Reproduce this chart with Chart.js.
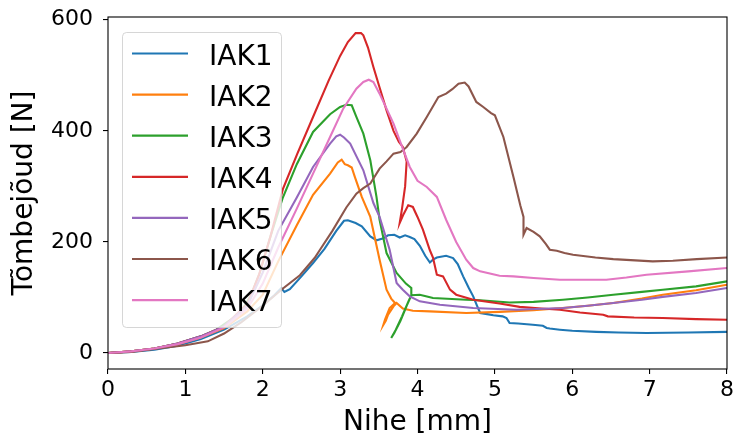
<!DOCTYPE html>
<html>
<head>
<meta charset="utf-8">
<script src="https://cdn.jsdelivr.net/npm/chart.js@4"></script>
<style>
  html, body { margin: 0; padding: 0; background: #fff; }
  #wrap { width: 735px; height: 442px; }
</style>
</head>
<body>
<div id="wrap"><canvas id="forceChart"></canvas></div>
<script>
// series names + tab10 colours
const seriesNames = ["IAK1", "IAK2", "IAK3", "IAK4", "IAK5", "IAK6", "IAK7"];
const seriesColors = ["#1f77b4", "#ff7f0e", "#2ca02c", "#d62728", "#9467bd", "#8c564b", "#e377c2"];

const xTicks = [0, 1, 2, 3, 4, 5, 6, 7, 8];
const yTicks = [0, 200, 400, 600];

// displacement [mm] / force [N] for every specimen
const iak1X = [0, 0.3, 0.6, 0.9, 1.2, 1.5, 1.8, 2.0, 2.15, 2.24, 2.28, 2.35, 2.5, 2.65, 2.8, 2.95, 3.05, 3.1, 3.2, 3.28, 3.39, 3.47, 3.55, 3.62, 3.7, 3.77, 3.84, 3.9, 3.96, 4.03, 4.1, 4.16, 4.2, 4.25, 4.37, 4.46, 4.52, 4.59, 4.66, 4.72, 4.77, 4.81, 4.9, 4.98, 5.1, 5.15, 5.19, 5.3, 5.49, 5.62, 5.67, 5.71, 5.84, 6.0, 6.31, 6.6, 6.96, 7.5, 8.0];
const iak1Y = [0, 2, 6, 13, 25, 42, 66, 86, 104, 117, 110, 115, 138, 162, 188, 220, 238, 239, 234, 228, 210, 203, 206, 212, 213, 208, 212, 209, 205, 193, 175, 163, 168, 172, 175, 171, 160, 138, 118, 102, 85, 72, 70, 68, 66, 63, 54, 53, 51, 49, 45, 44, 42, 40, 38, 37, 36, 37, 38];

const iak2X = [0, 0.3, 0.6, 0.9, 1.2, 1.5, 1.8, 2.0, 2.2, 2.44, 2.65, 2.87, 2.97, 3.02, 3.06, 3.1, 3.15, 3.19, 3.28, 3.39, 3.51, 3.6, 3.66, 3.71, 3.64, 3.58, 3.56, 3.59, 3.62, 3.69, 3.73, 3.81, 3.94, 4.16, 4.63, 5.06, 5.5, 5.88, 6.2, 6.53, 6.9, 7.17, 7.6, 8.0];
const iak2Y = [0, 3, 8, 16, 28, 45, 75, 105, 165, 230, 285, 323, 343, 348, 340, 338, 334, 317, 281, 245, 168, 114, 98, 90, 81, 60, 51, 58, 69, 84, 90, 80, 76, 75, 72, 74, 77, 81, 85, 90, 98, 105, 113, 123];

const iak3X = [0, 0.3, 0.6, 0.9, 1.2, 1.4, 1.71, 1.85, 1.96, 2.1, 2.26, 2.44, 2.65, 2.87, 3.0, 3.08, 3.15, 3.21, 3.3, 3.39, 3.47, 3.51, 3.6, 3.73, 3.85, 3.92, 3.92, 3.88, 3.8, 3.72, 3.66, 3.7, 3.78, 3.86, 3.92, 4.03, 4.2, 4.63, 4.81, 5.19, 5.5, 5.88, 6.2, 6.53, 6.9, 7.17, 7.6, 8.0];
const iak3Y = [0, 3, 8, 17, 30, 42, 72, 105, 144, 210, 280, 340, 398, 430, 443, 447, 446, 425, 395, 347, 281, 240, 180, 144, 125, 117, 104, 92, 66, 42, 27, 36, 58, 85, 104, 105, 99, 96, 95, 91, 92, 96, 100, 105, 110, 114, 120, 129];

const iak4X = [0, 0.3, 0.6, 0.9, 1.2, 1.5, 1.8, 1.95, 2.1, 2.26, 2.45, 2.65, 2.85, 3.0, 3.1, 3.2, 3.27, 3.3, 3.36, 3.43, 3.51, 3.6, 3.69, 3.76, 3.81, 3.86, 3.84, 3.8, 3.77, 3.82, 3.88, 3.94, 4.0, 4.07, 4.16, 4.2, 4.25, 4.33, 4.42, 4.5, 4.72, 5.06, 5.32, 5.6, 5.84, 6.1, 6.4, 6.46, 6.8, 7.17, 7.6, 8.0];
const iak4Y = [0, 3, 8, 17, 30, 48, 88, 140, 210, 295, 360, 425, 490, 535, 560, 576, 576, 572, 550, 515, 478, 437, 400, 380, 371, 345, 300, 260, 234, 250, 266, 263, 245, 222, 185, 172, 141, 138, 114, 105, 96, 89, 83, 80, 78, 73, 69, 66, 64, 63, 61, 60];

const iak5X = [0, 0.3, 0.6, 0.9, 1.2, 1.5, 1.8, 2.0, 2.2, 2.44, 2.65, 2.87, 2.95, 3.0, 3.05, 3.13, 3.3, 3.43, 3.51, 3.64, 3.73, 3.75, 3.81, 3.9, 4.03, 4.29, 4.72, 5.28, 5.88, 6.2, 6.53, 6.9, 7.17, 7.6, 8.0];
const iak5Y = [0, 3, 8, 17, 30, 48, 85, 145, 220, 280, 335, 377, 390, 393, 388, 377, 329, 270, 245, 186, 126, 123, 114, 102, 93, 87, 81, 78, 81, 85, 90, 96, 101, 108, 117];

const iak6X = [0, 0.3, 0.65, 1.0, 1.29, 1.5, 1.72, 2.0, 2.24, 2.48, 2.67, 2.74, 2.9, 3.08, 3.21, 3.3, 3.39, 3.51, 3.6, 3.69, 3.78, 3.86, 3.99, 4.12, 4.27, 4.37, 4.45, 4.53, 4.61, 4.66, 4.76, 4.85, 4.95, 5.0, 5.11, 5.24, 5.33, 5.37, 5.37, 5.41, 5.5, 5.58, 5.66, 5.71, 5.8, 5.9, 6.01, 6.3, 6.53, 7.04, 7.3, 7.61, 8.0];
const iak6Y = [0, 2, 8, 14, 21, 35, 55, 85, 114, 140, 171, 186, 220, 262, 287, 297, 305, 332, 345, 359, 362, 371, 395, 425, 461, 467, 475, 485, 487, 480, 452, 443, 432, 428, 389, 317, 265, 245, 213, 225, 218, 210, 196, 186, 184, 180, 177, 172, 169, 165, 166, 169, 172];

const iak7X = [0, 0.3, 0.6, 0.9, 1.2, 1.5, 1.8, 2.0, 2.2, 2.44, 2.65, 2.87, 3.04, 3.21, 3.3, 3.37, 3.43, 3.51, 3.6, 3.69, 3.81, 3.9, 4.0, 4.12, 4.25, 4.37, 4.5, 4.63, 4.72, 4.81, 5.06, 5.24, 5.5, 5.84, 6.2, 6.44, 6.7, 6.96, 7.5, 8.0];
const iak7Y = [0, 3, 8, 16, 28, 46, 80, 125, 190, 260, 323, 389, 440, 476, 488, 492, 488, 467, 440, 413, 368, 335, 310, 299, 281, 240, 200, 168, 153, 147, 139, 138, 135, 132, 132, 132, 136, 141, 147, 153];

const seriesX = [iak1X, iak2X, iak3X, iak4X, iak5X, iak6X, iak7X];
const seriesY = [iak1Y, iak2Y, iak3Y, iak4Y, iak5Y, iak6Y, iak7Y];

const FONT = "'DejaVu Sans', sans-serif";

// matplotlib-like legend: translucent box in the upper left of the plot
const insideLegend = {
  id: 'insideLegend',
  afterDatasetsDraw(chart) {
    const { ctx, chartArea } = chart;
    const x0 = chartArea.left + 14, y0 = chartArea.top + 15;
    const w = 159, h = 295, r = 4;
    ctx.save();
    ctx.beginPath();
    ctx.roundRect(x0 + 0.5, y0 + 0.5, w, h, r);
    ctx.fillStyle = 'rgba(255,255,255,0.8)';
    ctx.fill();
    ctx.strokeStyle = 'rgba(204,204,204,0.8)';
    ctx.lineWidth = 1;
    ctx.stroke();
    ctx.font = '28px ' + FONT;
    ctx.textBaseline = 'alphabetic';
    ctx.fillStyle = '#000';
    chart.data.datasets.forEach((ds, i) => {
      const y = y0 + 21.5 + i * 41.1;
      ctx.beginPath();
      ctx.moveTo(x0 + 10, y);
      ctx.lineTo(x0 + 66, y);
      ctx.strokeStyle = ds.borderColor;
      ctx.lineWidth = 2.2;
      ctx.stroke();
      ctx.fillText(ds.label, x0 + 87, y + 11);
    });
    ctx.restore();
  }
};

// axes frame on all four sides
const frame = {
  id: 'frame',
  afterDraw(chart) {
    const { ctx, chartArea: a } = chart;
    ctx.save();
    ctx.strokeStyle = '#000';
    ctx.lineWidth = 1.1;
    ctx.strokeRect(a.left, a.top, a.right - a.left, a.bottom - a.top);
    ctx.restore();
  }
};

const datasets = seriesNames.map((name, i) => ({
  label: name,
  data: seriesX[i].map((x, j) => ({ x: x, y: seriesY[i][j] })),
  borderColor: seriesColors[i],
  backgroundColor: seriesColors[i],
  borderWidth: 2.1,
  pointRadius: 0,
  showLine: true,
  tension: 0,
  fill: false,
  order: seriesNames.length - i
}));

new Chart(document.getElementById('forceChart'), {
  type: 'scatter',
  data: { datasets: datasets },
  options: {
    responsive: true,
    maintainAspectRatio: false,
    animation: false,
    layout: { padding: { left: 0, top: 17, right: 8, bottom: 0 } },
    plugins: {
      legend: { display: false },
      tooltip: { enabled: false }
    },
    scales: {
      x: {
        type: 'linear',
        min: 0,
        max: 8,
        afterBuildTicks: (scale) => { scale.ticks = xTicks.map(v => ({ value: v })); },
        afterFit: (scale) => {
          scale.height = 73;
          scale.paddingLeft = 0;
          scale.paddingRight = 0;
        },
        grid: { drawOnChartArea: false, drawTicks: true, tickLength: 5, color: '#000', lineWidth: 1.1 },
        border: { display: false },
        ticks: { color: '#000', font: { family: FONT, size: 22 }, padding: 3, autoSkip: false, maxRotation: 0 },
        title: { display: true, text: 'Nihe [mm]', color: '#000', font: { family: FONT, size: 28 }, padding: { top: 0, bottom: 2 } }
      },
      y: {
        type: 'linear',
        min: -28.8,
        max: 605,
        afterBuildTicks: (scale) => { scale.ticks = yTicks.map(v => ({ value: v })); },
        afterFit: (scale) => {
          scale.width = 108;
          scale.paddingTop = 0;
          scale.paddingBottom = 0;
        },
        grid: { drawOnChartArea: false, drawTicks: true, tickLength: 5, color: '#000', lineWidth: 1.1 },
        border: { display: false },
        ticks: { color: '#000', font: { family: FONT, size: 22 }, padding: 10 },
        title: { display: true, text: 'Tõmbejõud [N]', color: '#000', font: { family: FONT, size: 28 }, padding: { top: 8, bottom: 0 } }
      }
    }
  },
  plugins: [insideLegend, frame]
});
</script>
</body>
</html>
